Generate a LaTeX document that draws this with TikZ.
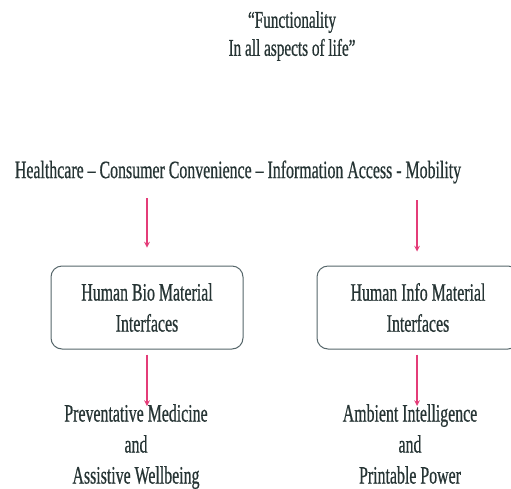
\documentclass[tikz,border=0pt]{standalone}
\usepackage{fontspec}
\setmainfont[FakeStretch=0.635, FakeBold=0.6]{Liberation Serif}
\usepackage{tikz}
\usetikzlibrary{arrows}
\definecolor{txt}{HTML}{263434}
\definecolor{boxline}{HTML}{56666A}
\definecolor{arr}{HTML}{E43C78}
\tikzset{l/.style={font=\fontsize{25}{31}\selectfont, text=txt, align=center, inner sep=0pt}}
\tikzset{bx/.style={draw=boxline, line width=1pt, rounded corners=11pt, minimum height=83pt}}
\tikzset{pk/.style={->, >=stealth, draw=arr, line width=1.5pt}}

\begin{document}
\begin{tikzpicture}[x=1pt, y=-1pt]
  \clip (0,0) rectangle (511,488);
  \fill[white] (0,0) rectangle (511,488);
  \node [l, font=\fontsize{24}{28}\selectfont] (motto) at (292,36) {``Functionality\\In all aspects of life''};
  \node [l] (areas) at (238,172) {Healthcare -- Consumer Convenience -- Information Access - Mobility};
  % the two interface boxes
  \node [bx, l, minimum width=192pt] (bio) at (147,307.5) {Human Bio Material\\Interfaces};
  \node [bx, l, minimum width=202pt] (info) at (418,307.5) {Human Info Material\\Interfaces};
  \coordinate (s1) at (147,198);
  \coordinate (s2) at (417,200);
  \draw [pk, shorten >=18pt] (s1) -- (bio.north);
  \draw [pk, shorten >=14pt] (s2) -- (s2 |- info.north);
  % outcomes
  \node [l, anchor=north] (med) at (136,404) {Preventative Medicine\\and\\Assistive Wellbeing};
  \node [l, anchor=north] (amb) at (410,404) {Ambient Intelligence\\and\\Printable Power};
  \draw [pk, shorten <=5pt, shorten >=-2pt] (bio.south) -- (bio.south |- med.north);
  \draw [pk, shorten <=5pt, shorten >=-2pt] (s2 |- info.south) -- (s2 |- amb.north);
\end{tikzpicture}
\end{document}
